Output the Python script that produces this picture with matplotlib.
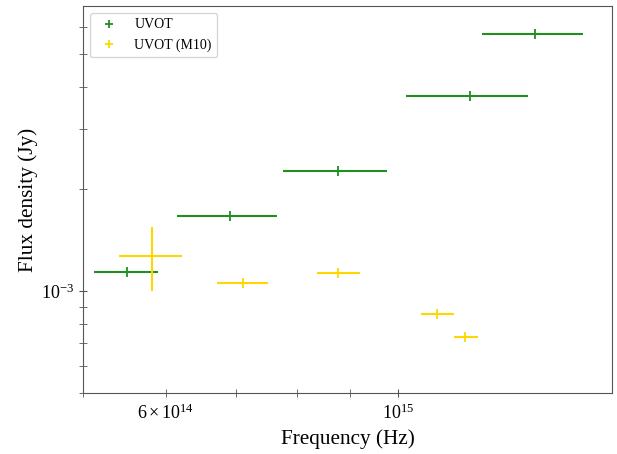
import matplotlib
matplotlib.use("Agg")
import matplotlib.pyplot as plt
import numpy as np

plt.rcParams['font.family'] = ['Liberation Serif', 'DejaVu Serif']
plt.rcParams['mathtext.fontset'] = 'stix'

# UVOT data
uvot_freq = [5.506e14, 6.909e14, 8.758e14, 1.172e15, 1.350e15]
uvot_flo = [5.12e14, 6.143e14, 7.768e14, 1.017e15, 1.202e15]
uvot_fhi = [5.896e14, 7.667e14, 9.761e14, 1.330e15, 1.500e15]
uvot_flux = [1.136e-3, 1.662e-3, 2.261e-3, 3.755e-3, 5.723e-3]
uvot_ferr = [0.0, 0.0, 0.0, 0.0, 0.0]

# UVOT (M10) data
m10_freq = [5.818e14, 7.104e14, 8.768e14, 1.088e15, 1.158e15]
m10_flo = [5.415e14, 6.710e14, 8.372e14, 1.051e15, 1.130e15]
m10_fhi = [6.212e14, 7.504e14, 9.184e14, 1.130e15, 1.191e15]
m10_flux = [1.269e-3, 1.056e-3, 1.130e-3, 8.57e-4, 7.31e-4]
m10_flux_lo = [1.0e-3, 1.056e-3, 1.130e-3, 8.57e-4, 7.31e-4]
m10_flux_hi = [1.542e-3, 1.056e-3, 1.130e-3, 8.57e-4, 7.31e-4]

green = '#1f8f1f'
gold = '#ffd700'

fig = plt.figure(figsize=(6.17, 4.54), dpi=100)
ax = fig.add_axes([0.1345, 0.1344, 0.8574, 0.8524])

def xerrs(c, lo, hi):
    c = np.array(c); return [c - np.array(lo), np.array(hi) - c]

ax.errorbar(uvot_freq, uvot_flux, xerr=xerrs(uvot_freq, uvot_flo, uvot_fhi),
            yerr=uvot_ferr, fmt='none', ecolor=green, elinewidth=1.5, zorder=2)
ax.plot(uvot_freq, uvot_flux, '+', color=green, ms=7, mew=1.3, label='UVOT', zorder=3)

mf = np.array(m10_flux)
ax.errorbar(m10_freq, m10_flux, xerr=xerrs(m10_freq, m10_flo, m10_fhi),
            yerr=[mf - np.array(m10_flux_lo), np.array(m10_flux_hi) - mf],
            fmt='none', ecolor=gold, elinewidth=1.5, zorder=2)
ax.plot(m10_freq, m10_flux, '+', color=gold, ms=7, mew=1.3, label='UVOT (M10)', zorder=3)

ax.set_xscale('log')
ax.set_yscale('log')
ax.set_xlim(5e14, 1.6e15)
ax.set_ylim(5e-4, 6.94e-3)

for s in ax.spines.values():
    s.set_color('#555555')
ax.tick_params(which='both', direction='inout', length=6, color='#555555',
               labelsize=13, top=False, right=False)
ax.tick_params(axis='x', which='both', pad=5)

ax.set_xlabel('Frequency (Hz)', fontsize=15.3)
ax.set_ylabel('Flux density (Jy)', fontsize=15.3, labelpad=2)
leg = ax.legend(loc='upper left', fontsize=10, markerscale=0.8)

fig.savefig('out.png', dpi=100)
